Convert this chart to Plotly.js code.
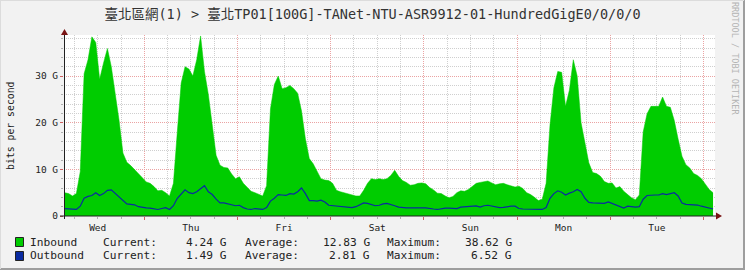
<!DOCTYPE html>
<html>
<head>
<meta charset="utf-8">
<script src="https://cdn.plot.ly/plotly-3.0.1.min.js"></script>
<style>html,body{margin:0;padding:0;background:#f2f2f2;}#chart{width:745px;height:270px;}</style>
</head>
<body>
<div id="chart"></div>
<script>
// ---- data (hourly samples, bits per second in G) ----
const startTime = '2024-01-03T03:30:00'; // Wednesday
const stepHours = 1;
const inbound = [
 5.0,4.8,4.3,4.8,9.5,30.5,33.5,38.4,37.2,29.3,
 32.8,35.9,32.0,26.4,20.5,13.5,11.5,10.8,10.0,9.0,
 8.2,7.3,7.0,6.3,5.4,5.5,5.0,4.3,7.0,18.0,
 28.5,32.0,31.5,30.0,33.5,38.6,31.0,26.0,19.0,13.0,
 10.9,10.4,10.3,9.0,8.0,8.4,7.0,6.1,5.3,5.0,
 4.6,4.3,6.5,23.0,28.2,30.0,27.3,27.5,28.0,27.3,
 26.3,22.5,16.5,12.3,11.2,9.5,8.0,7.7,7.6,7.0,
 5.5,5.2,5.0,4.8,4.6,4.3,4.3,5.5,7.0,8.0,
 7.8,8.0,7.8,8.0,8.7,9.8,8.5,7.6,7.2,6.6,
 6.7,7.0,7.1,6.9,6.1,5.6,4.9,4.8,4.3,3.9,
 4.2,5.0,5.4,5.3,5.7,6.3,7.0,7.2,7.4,7.5,
 7.1,6.7,6.9,7.0,6.7,6.4,6.2,6.4,5.9,5.0,
 4.6,4.0,3.3,3.6,7.0,19.5,27.5,31.0,30.8,23.5,
 27.0,33.5,30.0,20.0,15.5,11.4,9.3,9.1,8.5,7.4,
 7.0,7.1,6.0,6.3,5.3,4.5,3.9,3.5,4.5,18.0,
 21.9,23.5,23.5,23.5,25.5,23.5,23.3,20.5,16.5,12.8,
 11.0,10.3,9.1,8.7,8.0,6.8,5.7,5.0
];
const outbound = [
 1.6,1.5,1.5,1.4,2.1,3.8,4.2,4.4,5.0,4.4,
 4.8,5.5,5.6,4.8,4.0,3.2,2.6,2.5,2.4,2.0,
 1.8,1.75,1.7,1.5,1.4,1.6,1.8,1.4,2.2,3.8,
 4.6,5.6,5.0,4.8,5.2,5.8,6.5,5.2,4.6,3.6,
 2.8,2.8,2.6,2.3,2.2,2.3,1.8,1.5,1.4,1.6,
 1.5,1.4,1.8,3.2,3.8,4.6,4.5,4.4,4.8,4.7,
 5.2,6.0,4.8,3.3,3.3,3.2,3.4,3.0,2.3,2.2,
 2.2,2.1,2.0,1.8,1.8,2.0,2.4,2.8,2.7,2.4,
 2.2,2.3,2.6,2.7,2.5,2.2,1.9,1.75,1.75,1.75,
 1.8,1.8,1.75,1.75,1.7,1.5,1.4,1.6,1.7,1.7,
 1.6,1.6,1.9,2.0,2.1,2.2,2.15,1.9,2.2,2.3,
 2.1,2.0,1.8,1.85,2.0,2.1,2.1,1.6,1.5,1.5,
 1.5,1.5,1.5,1.4,1.8,3.8,4.8,5.4,5.1,4.5,
 4.9,5.2,5.7,5.2,3.8,2.9,2.8,2.8,2.7,2.7,
 3.0,2.7,2.4,2.0,1.7,2.1,2.0,1.9,2.0,3.6,
 4.4,4.5,4.5,4.5,4.8,4.6,4.8,5.0,4.3,2.8,
 2.5,2.5,2.4,2.35,2.1,1.9,1.7,1.5
];
const yTickVals = [0, 10, 20, 30];
const yTickText = ['0', '10 G', '20 G', '30 G'];
const seriesNames = ['Inbound', 'Outbound'];
const currentVals = ['4.24 G', '1.49 G'];
const averageVals = ['12.83 G', '2.81 G'];
const maximumVals = ['38.62 G', '6.52 G'];
const titleText = '臺北區網(1) > 臺北TP01[100G]-TANet-NTU-ASR9912-01-HundredGigE0/0/0/0';

// ---- build ----
const t0 = new Date(startTime + 'Z').getTime();
function fmt(ms){ return new Date(ms).toISOString().replace('T',' ').slice(0,19); }
const times = inbound.map((_, i) => fmt(t0 + i * stepHours * 3600000));

const MONO = 'DejaVu Sans Mono, Noto Sans CJK TC, monospace';
const GREEN = '#00cc00', BLUE = '#0a2aa0';
const L = 64, R = 715, T = 35, B = 216;
const px = x => (x - L) / (R - L);
const py = y => (B - y) / (B - T);

const traces = [
  {x: times, y: inbound, type: 'scatter', mode: 'lines', fill: 'tozeroy',
   fillcolor: GREEN, line: {color: GREEN, width: 0.5, shape: 'linear'}, hoverinfo: 'skip'},
  {x: times, y: outbound, type: 'scatter', mode: 'lines',
   line: {color: BLUE, width: 1.2, shape: 'linear'}, hoverinfo: 'skip'}
];

const annotations = [];
const legendRows = [242, 256];
seriesNames.forEach((name, k) => {
  const yy = py(legendRows[k]);
  const base = {xref: 'paper', yref: 'paper', showarrow: false, yanchor: 'middle', borderpad: 0,
                font: {family: MONO, size: 11.2, color: '#222'}};
  annotations.push(Object.assign({}, base, {x: px(29), y: yy, xanchor: 'left', text: name}));
  annotations.push(Object.assign({}, base, {x: px(101.5), y: yy, xanchor: 'left', text: 'Current:'}));
  annotations.push(Object.assign({}, base, {x: px(228), y: yy, xanchor: 'right', text: currentVals[k]}));
  annotations.push(Object.assign({}, base, {x: px(244), y: yy, xanchor: 'left', text: 'Average:'}));
  annotations.push(Object.assign({}, base, {x: px(371), y: yy, xanchor: 'right', text: averageVals[k]}));
  annotations.push(Object.assign({}, base, {x: px(386), y: yy, xanchor: 'left', text: 'Maximum:'}));
  annotations.push(Object.assign({}, base, {x: px(513), y: yy, xanchor: 'right', text: maximumVals[k]}));
});
annotations.push({xref: 'paper', yref: 'paper', showarrow: false, x: px(11), y: py(126),
  xanchor: 'center', yanchor: 'middle', textangle: -90, text: 'bits per second',
  font: {family: MONO, size: 9.8, color: '#222'}});
annotations.push({xref: 'paper', yref: 'paper', showarrow: false, x: px(735), y: py(58),
  xanchor: 'center', yanchor: 'middle', textangle: 90, text: 'RRDTOOL / TOBI OETIKER',
  font: {family: MONO, size: 8.5, color: '#b4b4b4'}});

const ARROW = '#7a1414';
function tri(points){ return 'M' + points.map(p => px(p[0]) + ',' + py(p[1])).join(' L') + ' Z'; }
const shapes = [
  // frame
  {type: 'line', xref: 'paper', yref: 'paper', x0: px(0), x1: px(745), y0: py(269), y1: py(269), line: {color: '#9e9e9e', width: 2}},
  {type: 'line', xref: 'paper', yref: 'paper', x0: px(744), x1: px(744), y0: py(0), y1: py(270), line: {color: '#9e9e9e', width: 2}},
  {type: 'line', xref: 'paper', yref: 'paper', x0: px(0), x1: px(744), y0: py(0.5), y1: py(0.5), line: {color: '#dcdcdc', width: 1}},
  {type: 'line', xref: 'paper', yref: 'paper', x0: px(0.5), x1: px(0.5), y0: py(0), y1: py(269), line: {color: '#dcdcdc', width: 1}},
  // axes
  {type: 'line', xref: 'paper', yref: 'paper', x0: px(60), x1: px(718), y0: py(216), y1: py(216), line: {color: '#202020', width: 1}},
  {type: 'line', xref: 'paper', yref: 'paper', x0: px(64.5), x1: px(64.5), y0: py(219), y1: py(33), line: {color: '#202020', width: 1}},
  {type: 'path', xref: 'paper', yref: 'paper', path: tri([[716,212.5],[722,216],[716,219.5]]), fillcolor: ARROW, line: {width: 0}},
  {type: 'path', xref: 'paper', yref: 'paper', path: tri([[61,35],[64.5,29],[68,35]]), fillcolor: ARROW, line: {width: 0}},
  // legend boxes
  {type: 'rect', xref: 'paper', yref: 'paper', x0: px(15.5), x1: px(23.5), y0: py(237.5), y1: py(246.5), fillcolor: GREEN, line: {color: '#222', width: 1}},
  {type: 'rect', xref: 'paper', yref: 'paper', x0: px(15.5), x1: px(23.5), y0: py(251.5), y1: py(260.5), fillcolor: BLUE, line: {color: '#222', width: 1}}
];

const layout = {
  width: 745, height: 270,
  margin: {l: L, r: 745 - R, t: T, b: 270 - B, pad: 0},
  paper_bgcolor: '#f2f2f2', plot_bgcolor: '#ffffff',
  showlegend: false,
  title: {text: titleText, x: 0.5, xref: 'container', y: 1 - 14.5/270, yref: 'container', yanchor: 'middle',
          font: {family: MONO, size: 13.5, color: '#333'}},
  xaxis: {
    type: 'date', range: ['2024-01-03 03:19', '2024-01-10 03:00'],
    tick0: '2024-01-03', dtick: 86400000, tickformat: '%a', ticklabelmode: 'period',
    showgrid: true, gridcolor: '#eba3a3', griddash: '1px,1px', gridwidth: 1,
    ticks: 'outside', ticklen: 3, tickcolor: '#d06060', tickwidth: 1,
    minor: {tick0: '2024-01-03', dtick: 21600000, showgrid: true, gridcolor: '#cfcfcf', griddash: '1px,1px', gridwidth: 1,
            ticks: 'outside', ticklen: 2, tickcolor: '#b0b0b0'},
    showline: false, zeroline: false, fixedrange: true,
    tickfont: {family: MONO, size: 9.5, color: '#222'}
  },
  yaxis: {
    range: [0, 38.8], tickmode: 'array', tickvals: yTickVals, ticktext: yTickText,
    showgrid: true, gridcolor: '#eba3a3', griddash: '1px,1px', gridwidth: 1,
    ticks: 'outside', ticklen: 3, tickcolor: '#d06060',
    minor: {tick0: 0, dtick: 2, showgrid: true, gridcolor: '#cfcfcf', griddash: '1px,1px', gridwidth: 1,
            ticks: 'outside', ticklen: 2, tickcolor: '#b0b0b0'},
    showline: false, zeroline: false, fixedrange: true,
    tickfont: {family: MONO, size: 9.5, color: '#222'}
  },
  annotations: annotations,
  shapes: shapes
};

Plotly.newPlot('chart', traces, layout, {staticPlot: true, displayModeBar: false});
</script>
</body>
</html>
